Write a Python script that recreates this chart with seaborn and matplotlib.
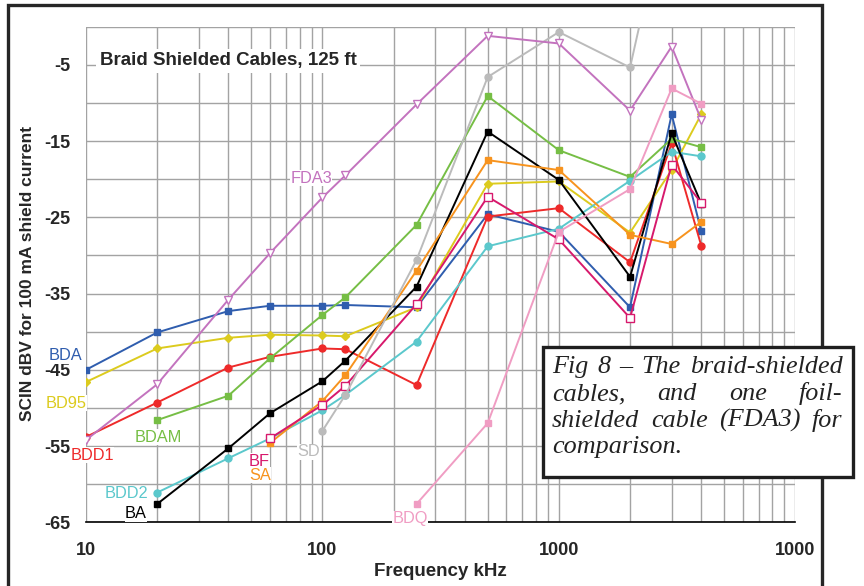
import numpy as np
import pandas as pd
import matplotlib
matplotlib.use("Agg")
import matplotlib.pyplot as plt
from matplotlib.patches import Rectangle
from matplotlib.ticker import FixedLocator, NullFormatter, FixedFormatter
import seaborn as sns

nan = np.nan
# ---------------- data ----------------
FREQ = [10, 20, 40, 60, 100, 125, 250, 500, 1000, 2000, 3000, 4000]
BDA  = [-45.0, -40.1, -37.3, -36.6, -36.6, -36.5, -36.8, -24.6, -26.9, -36.8, -11.5, -26.8]
BD95 = [-46.6, -42.2, -40.8, -40.4, -40.5, -40.6, -36.8, -20.6, -20.3, -27.0, -18.8, -11.5]
BDD1 = [-53.8, -49.3, -44.7, -43.3, -42.2, -42.3, -47.0, -24.9, -23.8, -30.9, -15.3, -28.7]
BDAM = [nan, -51.6, -48.4, -43.5, -37.8, -35.5, -26.0, -9.1, -16.2, -19.7, -14.7, -15.8]
BDD2 = [nan, -61.1, -56.6, -54.0, -50.3, -48.3, -41.3, -28.8, -26.5, -20.2, -16.4, -17.0]
BA   = [nan, -62.6, -55.3, -50.7, -46.5, -43.8, -34.1, -13.75, -20.1, -32.8, -14.0, -23.2]
SA   = [nan, nan, nan, -54.6, -49.1, -45.7, -32.0, -17.5, -18.8, -27.3, -28.5, -25.6]
BF   = [nan, nan, nan, -54.0, -49.6, -47.1, -36.4, -22.3, -27.9, -38.2, -18.1, -23.1]
SD   = [nan, nan, nan, nan, -53.0, -48.3, -30.6, -6.6, -0.7, -5.35, 19.0, nan]
FDA3 = [-54.2, -46.9, -35.8, -29.7, -22.4, -19.5, -10.2, -1.2, -2.2, -11.0, -2.6, -12.2]
BDQ  = [nan, nan, nan, nan, nan, nan, -62.6, -52.0, -26.9, -21.3, -8.1, -10.1]

SERIES = ["BDA", "BD95", "BDD1", "BDAM", "BDD2", "BA", "SA", "BF", "SD", "FDA3", "BDQ"]
VALUES = [BDA, BD95, BDD1, BDAM, BDD2, BA, SA, BF, SD, FDA3, BDQ]

Y_TICKS = [-65, -55, -45, -35, -25, -15, -5]
Y_TICK_LABELS = ["-65", "-55", "-45", "-35", "-25", "-15", "-5"]
X_TICKS = [10, 100, 1000, 10000]
X_TICK_LABELS = ["10", "100", "1000", "1000"]

TITLE = "Braid Shielded Cables, 125 ft"
XLABEL = "Frequency kHz"
YLABEL = "SCIN dBV for 100 mA shield current"
NOTE_LINES = [["Fig", "8", "\u2013", "The", "braid-shielded"],
              ["cables,", "and", "one", "foil-"],
              ["shielded", "cable", "(FDA3)", "for"],
              ["comparison."]]

# ---------------- styles ----------------
STYLE = {
    "BDA":  dict(color="#2F5DAE", marker="s", ms=5.0, fill=True),
    "BD95": dict(color="#DCCB1E", marker="D", ms=4.5, fill=True),
    "BDD1": dict(color="#EE2A2A", marker="o", ms=5.0, fill=True),
    "BDAM": dict(color="#76BE45", marker="s", ms=5.0, fill=True),
    "BDD2": dict(color="#5BC8CC", marker="o", ms=5.0, fill=True),
    "BA":   dict(color="#000000", marker="s", ms=5.0, fill=True),
    "SA":   dict(color="#F7931E", marker="s", ms=5.0, fill=True),
    "BF":   dict(color="#D7196C", marker="s", ms=5.5, fill=False),
    "SD":   dict(color="#BBBBBB", marker="o", ms=5.0, fill=True),
    "FDA3": dict(color="#C373BE", marker="v", ms=6.0, fill=False),
    "BDQ":  dict(color="#F09DC3", marker="s", ms=5.0, fill=True),
}
LABEL_POS = {  # pixel centres of the series labels
    "BDA": (65, 356), "BD95": (66, 403), "BDD1": (92, 455), "BDAM": (158, 437),
    "BDD2": (126, 494), "BA": (136, 514), "BF": (259, 461), "SA": (260, 475),
    "SD": (309, 452), "BDQ": (410, 519), "FDA3": (311, 178),
}

W, H = 864, 586
def fx(px): return px / W
def fy(py): return 1 - py / H

sns.set_style("white")
plt.rcParams["font.family"] = ["Liberation Sans", "DejaVu Sans"]
plt.rcParams["axes.unicode_minus"] = False

fig = plt.figure(figsize=(8.64, 5.86), dpi=100)
fig.patch.set_facecolor("white")
ax = fig.add_axes([fx(86), fy(522.3), (795.3 - 86) / W, (522.3 - 26.7) / H])
ax.set_facecolor("white")

for name, vals in zip(SERIES, VALUES):
    df = pd.DataFrame({"freq": FREQ, "val": vals}).dropna()
    st = STYLE[name]
    sns.lineplot(data=df, x="freq", y="val", ax=ax, color=st["color"],
                 marker=st["marker"], markersize=st["ms"],
                 markeredgecolor=st["color"], markeredgewidth=1.0,
                 markerfacecolor=st["color"] if st["fill"] else "white",
                 linewidth=1.4, errorbar=None, sort=True, zorder=3)

ax.set_xscale("log")
ax.set_xlim(10, 10000)
ax.set_ylim(-65, 0)
ax.set_xlabel("")
ax.set_ylabel("")

ax.xaxis.set_major_locator(FixedLocator(X_TICKS))
ax.xaxis.set_major_formatter(FixedFormatter(X_TICK_LABELS))
minor_x = [m * 10 ** d for d in range(1, 4) for m in range(2, 10)]
ax.xaxis.set_minor_locator(FixedLocator(minor_x))
ax.xaxis.set_minor_formatter(NullFormatter())
ax.yaxis.set_major_locator(FixedLocator(Y_TICKS))
ax.yaxis.set_major_formatter(FixedFormatter(Y_TICK_LABELS))
ax.yaxis.set_minor_locator(FixedLocator([-60, -50, -40, -30, -20, -10, 0]))
ax.yaxis.set_minor_formatter(NullFormatter())

ax.grid(True, which="both", color="#A3A3A3", linewidth=1.0, zorder=0)
ax.set_axisbelow(True)
ax.tick_params(axis="both", which="both", length=4, width=1.0, color="#A3A3A3")
ax.tick_params(axis="x", which="both", pad=10)
ax.tick_params(axis="y", which="both", pad=7)
for lab in ax.get_xticklabels():
    lab.set_fontweight("bold"); lab.set_fontsize(13)
for lab in ax.get_yticklabels():
    lab.set_fontweight("bold"); lab.set_fontsize(13)
for s in ["left", "top", "right"]:
    ax.spines[s].set_visible(False)
ax.spines["bottom"].set_color("black")
ax.spines["bottom"].set_linewidth(1.2)

# title inside plot
ax.text(fx(100), fy(61), TITLE, transform=fig.transFigure, fontsize=13.5,
        fontweight="bold", ha="left", va="center", zorder=5,
        bbox=dict(facecolor="white", edgecolor="none", pad=2.5))

# series labels
for name, (px, py) in LABEL_POS.items():
    ax.text(fx(px), fy(py), name, transform=fig.transFigure, fontsize=11.8,
            color=STYLE[name]["color"], ha="center", va="center", zorder=6,
            bbox=dict(facecolor="white", edgecolor="none", pad=0.2))

# axis labels
fig.text(fx(28), fy(273), YLABEL, rotation=90, fontsize=12.5, fontweight="bold",
         ha="center", va="center")
fig.text(fx(440), fy(572), XLABEL, fontsize=13.5, fontweight="bold",
         ha="center", va="center")

# outer frame
frame = Rectangle((fx(8), -0.05), (822 - 8) / W, fy(5) + 0.05, transform=fig.transFigure,
                  fill=False, edgecolor="#262626", linewidth=2.4, clip_on=False, zorder=1)
fig.add_artist(frame)

# caption box
box = Rectangle((fx(543), fy(477)), (853 - 543) / W, (477 - 347) / H,
                transform=fig.transFigure, facecolor="white", edgecolor="#1f1f1f",
                linewidth=2.4, zorder=20)
fig.add_artist(box)

renderer = fig.canvas.get_renderer()
baselines = [373.3, 400.0, 426.7, 453.3]
x0, x1 = 552, 842.5
tkw = dict(family=["Liberation Serif", "DejaVu Serif"], style="italic", fontsize=18.8,
           color="#222222", va="baseline", ha="left", zorder=21)
for i, (words, yb) in enumerate(zip(NOTE_LINES, baselines)):
    texts = [fig.text(0, fy(yb), w, **tkw) for w in words]
    if len(words) == 1:
        texts[0].set_x(fx(x0))
        continue
    widths = [t.get_window_extent(renderer).width for t in texts]
    gap = (x1 - x0 - sum(widths)) / (len(words) - 1)
    x = x0
    for t, wdt in zip(texts, widths):
        t.set_x(fx(x))
        x += wdt + gap

fig.savefig("out.png", dpi=100, facecolor="white")
